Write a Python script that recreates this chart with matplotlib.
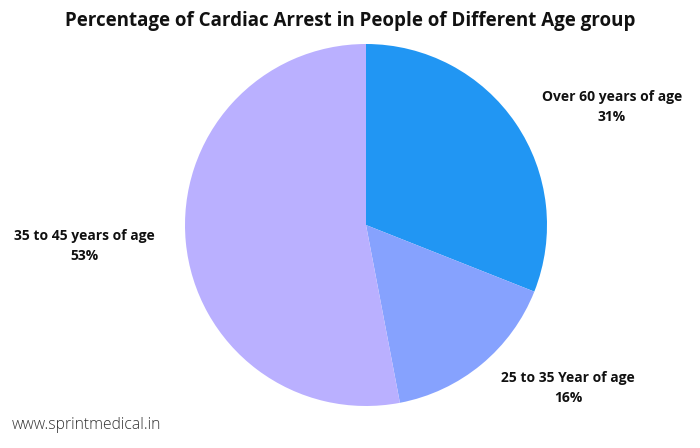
import matplotlib.pyplot as plt

labels = ["Over 60 years of age", "25 to 35 Year of age", "35 to 45 years of age"]
shares = [31, 16, 53]
colors = ["#2196F3", "#86A2FE", "#BAB0FF"]

W, H = 700, 448

fig = plt.figure(figsize=(7, 4.48), dpi=100)
ax = fig.add_axes([0, 0, 1, 1])

ax.pie(shares, colors=colors, startangle=90, counterclock=False,
       center=(366, H - 225), radius=181, frame=True,
       wedgeprops=dict(linewidth=0))
ax.set_xlim(0, W)
ax.set_ylim(0, H)
ax.set_aspect("equal")
ax.axis("off")

# label positions (pixels from top-left)
label_pos = [(612, 107), (568, 388), (84, 246)]
for name, pct, (x, y) in zip(labels, shares, label_pos):
    ax.text(x, H - y, f"{name}\n{pct}%", ha="center", va="center",
            fontsize=10, fontweight="bold", family="Open Sans",
            linespacing=1.6, color="#111111")

fig.text(0.5, 1 - 21 / H, "Percentage of Cardiac Arrest in People of Different Age group",
         ha="center", va="center", fontsize=13.5, fontweight="bold",
         family="Open Sans", color="#111111")
fig.text(12 / W, 1 - 425 / H, "www.sprintmedical.in", ha="left", va="center",
         fontsize=11.3, fontweight="light", family="Open Sans", color="#333333")

fig.savefig("out.png", dpi=100)
